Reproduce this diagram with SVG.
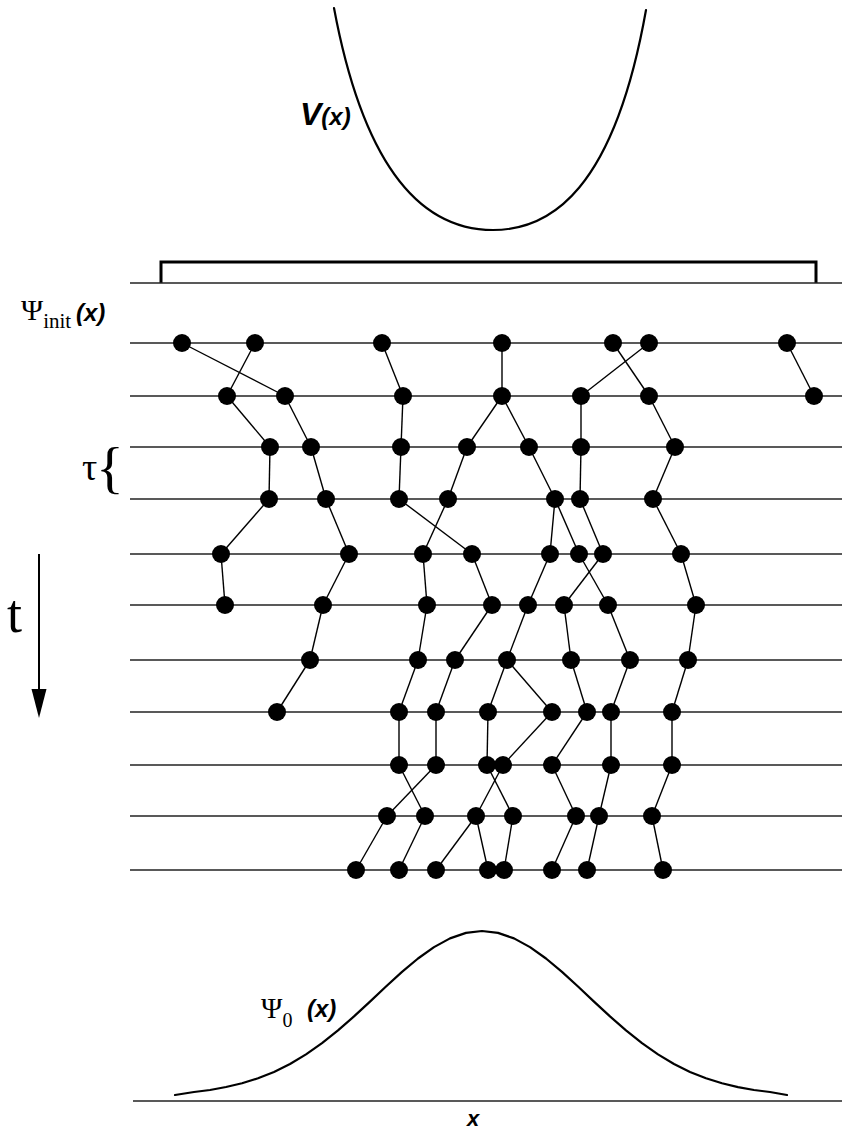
<svg xmlns="http://www.w3.org/2000/svg" width="842" height="1131" viewBox="0 0 842 1131">
<style>
.grid{stroke:#222;stroke-width:1.5;fill:none}
.edge{stroke:#000;stroke-width:1.4;fill:none}
.dot{fill:#000}
.curve{stroke:#000;stroke-width:2.2;fill:none;stroke-linejoin:round;stroke-linecap:round}
.serif{font-family:"Liberation Serif","Times New Roman",serif;fill:#000}
.sbi{font-family:"Liberation Sans",Arial,sans-serif;font-weight:bold;font-style:italic;fill:#000}
</style>
<rect width="842" height="1131" fill="#fff"/>
<g id="potential">
<path class="curve" d="M334,8 C368,190 435,230 493,230 C551,230 614,190 646,10"/>
<text class="sbi" x="300" y="125" font-size="32">V<tspan font-size="24">(x)</tspan></text>
</g>
<g id="box">
<path d="M161,283 V262 H816 V283" stroke="#000" stroke-width="3" fill="none"/>
<line class="grid" x1="130" y1="283" x2="842" y2="283"/>
</g>
<g id="grid">
<line class="grid" x1="130" y1="343" x2="842" y2="343"/>
<line class="grid" x1="130" y1="396" x2="842" y2="396"/>
<line class="grid" x1="130" y1="447" x2="842" y2="447"/>
<line class="grid" x1="130" y1="499" x2="842" y2="499"/>
<line class="grid" x1="130" y1="554" x2="842" y2="554"/>
<line class="grid" x1="130" y1="605" x2="842" y2="605"/>
<line class="grid" x1="130" y1="660" x2="842" y2="660"/>
<line class="grid" x1="130" y1="712" x2="842" y2="712"/>
<line class="grid" x1="130" y1="765" x2="842" y2="765"/>
<line class="grid" x1="130" y1="816" x2="842" y2="816"/>
<line class="grid" x1="130" y1="870" x2="842" y2="870"/>
</g>
<g id="labels">
<text class="serif" x="21" y="320" font-size="30">Ψ<tspan font-size="21" dy="8">init</tspan></text>
<text class="sbi" x="76" y="321" font-size="24">(x)</text>
<text class="serif" x="82" y="480" font-size="38">τ</text>
<text class="serif" x="96" y="487" font-size="58">{</text>
<text class="serif" x="7" y="632" font-size="54">t</text>
</g>
<g id="time-arrow">
<line x1="39" y1="554" x2="39" y2="694" stroke="#000" stroke-width="2"/>
<polygon points="31.5,689 46.5,689 39,718" fill="#000"/>
</g>
<g id="connectors">
<line class="edge" x1="182" y1="343" x2="285" y2="396"/>
<line class="edge" x1="255" y1="343" x2="227" y2="396"/>
<line class="edge" x1="382" y1="343" x2="403" y2="396"/>
<line class="edge" x1="502" y1="343" x2="502" y2="396"/>
<line class="edge" x1="613" y1="343" x2="649" y2="396"/>
<line class="edge" x1="649" y1="343" x2="581" y2="396"/>
<line class="edge" x1="787" y1="343" x2="814" y2="396"/>
<line class="edge" x1="227" y1="396" x2="270" y2="447"/>
<line class="edge" x1="285" y1="396" x2="311" y2="447"/>
<line class="edge" x1="403" y1="396" x2="401" y2="447"/>
<line class="edge" x1="502" y1="396" x2="467" y2="447"/>
<line class="edge" x1="502" y1="396" x2="529" y2="447"/>
<line class="edge" x1="581" y1="396" x2="581" y2="447"/>
<line class="edge" x1="649" y1="396" x2="675" y2="447"/>
<line class="edge" x1="270" y1="447" x2="269" y2="499"/>
<line class="edge" x1="311" y1="447" x2="326" y2="499"/>
<line class="edge" x1="401" y1="447" x2="399" y2="499"/>
<line class="edge" x1="467" y1="447" x2="448" y2="499"/>
<line class="edge" x1="529" y1="447" x2="555" y2="499"/>
<line class="edge" x1="581" y1="447" x2="580" y2="499"/>
<line class="edge" x1="675" y1="447" x2="653" y2="499"/>
<line class="edge" x1="269" y1="499" x2="221" y2="554"/>
<line class="edge" x1="326" y1="499" x2="349" y2="554"/>
<line class="edge" x1="399" y1="499" x2="472" y2="554"/>
<line class="edge" x1="448" y1="499" x2="423" y2="554"/>
<line class="edge" x1="555" y1="499" x2="550" y2="554"/>
<line class="edge" x1="555" y1="499" x2="579" y2="554"/>
<line class="edge" x1="580" y1="499" x2="603" y2="554"/>
<line class="edge" x1="653" y1="499" x2="681" y2="554"/>
<line class="edge" x1="221" y1="554" x2="225" y2="605"/>
<line class="edge" x1="349" y1="554" x2="323" y2="605"/>
<line class="edge" x1="423" y1="554" x2="427" y2="605"/>
<line class="edge" x1="472" y1="554" x2="492" y2="605"/>
<line class="edge" x1="550" y1="554" x2="528" y2="605"/>
<line class="edge" x1="579" y1="554" x2="608" y2="605"/>
<line class="edge" x1="603" y1="554" x2="564" y2="605"/>
<line class="edge" x1="681" y1="554" x2="696" y2="605"/>
<line class="edge" x1="323" y1="605" x2="310" y2="660"/>
<line class="edge" x1="427" y1="605" x2="418" y2="660"/>
<line class="edge" x1="492" y1="605" x2="455" y2="660"/>
<line class="edge" x1="528" y1="605" x2="507" y2="660"/>
<line class="edge" x1="564" y1="605" x2="571" y2="660"/>
<line class="edge" x1="608" y1="605" x2="630" y2="660"/>
<line class="edge" x1="696" y1="605" x2="688" y2="660"/>
<line class="edge" x1="310" y1="660" x2="277" y2="712"/>
<line class="edge" x1="418" y1="660" x2="399" y2="712"/>
<line class="edge" x1="455" y1="660" x2="436" y2="712"/>
<line class="edge" x1="507" y1="660" x2="488" y2="712"/>
<line class="edge" x1="507" y1="660" x2="552" y2="712"/>
<line class="edge" x1="571" y1="660" x2="587" y2="712"/>
<line class="edge" x1="630" y1="660" x2="611" y2="712"/>
<line class="edge" x1="688" y1="660" x2="672" y2="712"/>
<line class="edge" x1="399" y1="712" x2="399" y2="765"/>
<line class="edge" x1="436" y1="712" x2="436" y2="765"/>
<line class="edge" x1="488" y1="712" x2="487" y2="765"/>
<line class="edge" x1="552" y1="712" x2="503" y2="765"/>
<line class="edge" x1="587" y1="712" x2="552" y2="765"/>
<line class="edge" x1="611" y1="712" x2="611" y2="765"/>
<line class="edge" x1="672" y1="712" x2="672" y2="765"/>
<line class="edge" x1="399" y1="765" x2="425" y2="816"/>
<line class="edge" x1="436" y1="765" x2="387" y2="816"/>
<line class="edge" x1="487" y1="765" x2="513" y2="816"/>
<line class="edge" x1="503" y1="765" x2="476" y2="816"/>
<line class="edge" x1="552" y1="765" x2="576" y2="816"/>
<line class="edge" x1="611" y1="765" x2="599" y2="816"/>
<line class="edge" x1="672" y1="765" x2="652" y2="816"/>
<line class="edge" x1="387" y1="816" x2="356" y2="870"/>
<line class="edge" x1="425" y1="816" x2="399" y2="870"/>
<line class="edge" x1="476" y1="816" x2="436" y2="870"/>
<line class="edge" x1="476" y1="816" x2="488" y2="870"/>
<line class="edge" x1="513" y1="816" x2="504" y2="870"/>
<line class="edge" x1="576" y1="816" x2="552" y2="870"/>
<line class="edge" x1="599" y1="816" x2="587" y2="870"/>
<line class="edge" x1="652" y1="816" x2="663" y2="870"/>
</g>
<g id="walkers">
<g id="w0-1"><circle class="dot" cx="182" cy="343" r="9"/></g>
<g id="w0-2"><circle class="dot" cx="255" cy="343" r="9"/></g>
<g id="w0-3"><circle class="dot" cx="382" cy="343" r="9"/></g>
<g id="w0-4"><circle class="dot" cx="502" cy="343" r="9"/></g>
<g id="w0-5"><circle class="dot" cx="613" cy="343" r="9"/></g>
<g id="w0-6"><circle class="dot" cx="649" cy="343" r="9"/></g>
<g id="w0-7"><circle class="dot" cx="787" cy="343" r="9"/></g>
<g id="w1-1"><circle class="dot" cx="227" cy="396" r="9"/></g>
<g id="w1-2"><circle class="dot" cx="285" cy="396" r="9"/></g>
<g id="w1-3"><circle class="dot" cx="403" cy="396" r="9"/></g>
<g id="w1-4"><circle class="dot" cx="502" cy="396" r="9"/></g>
<g id="w1-5"><circle class="dot" cx="581" cy="396" r="9"/></g>
<g id="w1-6"><circle class="dot" cx="649" cy="396" r="9"/></g>
<g id="w1-7"><circle class="dot" cx="814" cy="396" r="9"/></g>
<g id="w2-1"><circle class="dot" cx="270" cy="447" r="9"/></g>
<g id="w2-2"><circle class="dot" cx="311" cy="447" r="9"/></g>
<g id="w2-3"><circle class="dot" cx="401" cy="447" r="9"/></g>
<g id="w2-4"><circle class="dot" cx="467" cy="447" r="9"/></g>
<g id="w2-5"><circle class="dot" cx="529" cy="447" r="9"/></g>
<g id="w2-6"><circle class="dot" cx="581" cy="447" r="9"/></g>
<g id="w2-7"><circle class="dot" cx="675" cy="447" r="9"/></g>
<g id="w3-1"><circle class="dot" cx="269" cy="499" r="9"/></g>
<g id="w3-2"><circle class="dot" cx="326" cy="499" r="9"/></g>
<g id="w3-3"><circle class="dot" cx="399" cy="499" r="9"/></g>
<g id="w3-4"><circle class="dot" cx="448" cy="499" r="9"/></g>
<g id="w3-5"><circle class="dot" cx="555" cy="499" r="9"/></g>
<g id="w3-6"><circle class="dot" cx="580" cy="499" r="9"/></g>
<g id="w3-7"><circle class="dot" cx="653" cy="499" r="9"/></g>
<g id="w4-1"><circle class="dot" cx="221" cy="554" r="9"/></g>
<g id="w4-2"><circle class="dot" cx="349" cy="554" r="9"/></g>
<g id="w4-3"><circle class="dot" cx="423" cy="554" r="9"/></g>
<g id="w4-4"><circle class="dot" cx="472" cy="554" r="9"/></g>
<g id="w4-5"><circle class="dot" cx="550" cy="554" r="9"/></g>
<g id="w4-6"><circle class="dot" cx="579" cy="554" r="9"/></g>
<g id="w4-7"><circle class="dot" cx="603" cy="554" r="9"/></g>
<g id="w4-8"><circle class="dot" cx="681" cy="554" r="9"/></g>
<g id="w5-1"><circle class="dot" cx="225" cy="605" r="9"/></g>
<g id="w5-2"><circle class="dot" cx="323" cy="605" r="9"/></g>
<g id="w5-3"><circle class="dot" cx="427" cy="605" r="9"/></g>
<g id="w5-4"><circle class="dot" cx="492" cy="605" r="9"/></g>
<g id="w5-5"><circle class="dot" cx="528" cy="605" r="9"/></g>
<g id="w5-6"><circle class="dot" cx="564" cy="605" r="9"/></g>
<g id="w5-7"><circle class="dot" cx="608" cy="605" r="9"/></g>
<g id="w5-8"><circle class="dot" cx="696" cy="605" r="9"/></g>
<g id="w6-1"><circle class="dot" cx="310" cy="660" r="9"/></g>
<g id="w6-2"><circle class="dot" cx="418" cy="660" r="9"/></g>
<g id="w6-3"><circle class="dot" cx="455" cy="660" r="9"/></g>
<g id="w6-4"><circle class="dot" cx="507" cy="660" r="9"/></g>
<g id="w6-5"><circle class="dot" cx="571" cy="660" r="9"/></g>
<g id="w6-6"><circle class="dot" cx="630" cy="660" r="9"/></g>
<g id="w6-7"><circle class="dot" cx="688" cy="660" r="9"/></g>
<g id="w7-1"><circle class="dot" cx="277" cy="712" r="9"/></g>
<g id="w7-2"><circle class="dot" cx="399" cy="712" r="9"/></g>
<g id="w7-3"><circle class="dot" cx="436" cy="712" r="9"/></g>
<g id="w7-4"><circle class="dot" cx="488" cy="712" r="9"/></g>
<g id="w7-5"><circle class="dot" cx="552" cy="712" r="9"/></g>
<g id="w7-6"><circle class="dot" cx="587" cy="712" r="9"/></g>
<g id="w7-7"><circle class="dot" cx="611" cy="712" r="9"/></g>
<g id="w7-8"><circle class="dot" cx="672" cy="712" r="9"/></g>
<g id="w8-1"><circle class="dot" cx="399" cy="765" r="9"/></g>
<g id="w8-2"><circle class="dot" cx="436" cy="765" r="9"/></g>
<g id="w8-3"><circle class="dot" cx="487" cy="765" r="9"/></g>
<g id="w8-4"><circle class="dot" cx="503" cy="765" r="9"/></g>
<g id="w8-5"><circle class="dot" cx="552" cy="765" r="9"/></g>
<g id="w8-6"><circle class="dot" cx="611" cy="765" r="9"/></g>
<g id="w8-7"><circle class="dot" cx="672" cy="765" r="9"/></g>
<g id="w9-1"><circle class="dot" cx="387" cy="816" r="9"/></g>
<g id="w9-2"><circle class="dot" cx="425" cy="816" r="9"/></g>
<g id="w9-3"><circle class="dot" cx="476" cy="816" r="9"/></g>
<g id="w9-4"><circle class="dot" cx="513" cy="816" r="9"/></g>
<g id="w9-5"><circle class="dot" cx="576" cy="816" r="9"/></g>
<g id="w9-6"><circle class="dot" cx="599" cy="816" r="9"/></g>
<g id="w9-7"><circle class="dot" cx="652" cy="816" r="9"/></g>
<g id="w10-1"><circle class="dot" cx="356" cy="870" r="9"/></g>
<g id="w10-2"><circle class="dot" cx="399" cy="870" r="9"/></g>
<g id="w10-3"><circle class="dot" cx="436" cy="870" r="9"/></g>
<g id="w10-4"><circle class="dot" cx="488" cy="870" r="9"/></g>
<g id="w10-5"><circle class="dot" cx="504" cy="870" r="9"/></g>
<g id="w10-6"><circle class="dot" cx="552" cy="870" r="9"/></g>
<g id="w10-7"><circle class="dot" cx="587" cy="870" r="9"/></g>
<g id="w10-8"><circle class="dot" cx="663" cy="870" r="9"/></g>
</g>
<g id="ground-state">
<polyline class="curve" points="175,1095 194,1092 210,1090 226,1087 242,1083.3 258,1078.3 274,1071.9 290,1064 306,1054.4 322,1043.2 338,1030.4 354,1016.4 370,1001.6 386,986.5 402,971.9 418,958.5 434,947.1 450,938.4 466,932.9 482,931 498,932.9 514,938.4 530,947.1 546,958.5 562,971.9 578,986.5 594,1001.6 610,1016.4 626,1030.4 642,1043.2 658,1054.4 674,1064 690,1071.9 706,1078.3 722,1083.3 738,1087.1 754,1090 770,1092 787,1095"/>
<text class="serif" x="261" y="1018" font-size="29">Ψ<tspan font-size="20" dy="9">0</tspan></text>
<text class="sbi" x="307" y="1017" font-size="24">(x)</text>
<line class="grid" x1="133" y1="1101" x2="842" y2="1101"/>
<text class="sbi" x="473" y="1126" font-size="22" text-anchor="middle">x</text>
</g>
</svg>
